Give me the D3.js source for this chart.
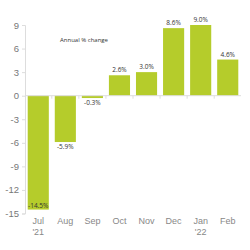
<!DOCTYPE html>
<html>
<head>
<meta charset="utf-8">
<script src="https://cdn.jsdelivr.net/npm/d3@7"></script>
<style>
  body { margin: 0; background: #fff; }
  text { font-family: "Liberation Sans", "DejaVu Sans", sans-serif; }
</style>
</head>
<body>
<div id="chart"></div>
<script>
var months = ["Jul", "Aug", "Sep", "Oct", "Nov", "Dec", "Jan", "Feb"];
var years = ["'21", "", "", "", "", "", "'22", ""];
var values = [-14.5, -5.9, -0.3, 2.6, 3.0, 8.6, 9.0, 4.6];
var yTicks = [9, 6, 3, 0, -3, -6, -9, -12, -15];

var width = 250, height = 250;
var margin = {top: 25, right: 9, bottom: 36, left: 25};

var svg = d3.select("#chart").append("svg")
    .attr("width", width)
    .attr("height", height);

var x = d3.scaleBand()
    .domain(months)
    .range([margin.left, width - margin.right])
    .paddingInner(0.22)
    .paddingOuter(0.1);

var y = d3.scaleLinear()
    .domain([-15, 9])
    .range([height - margin.bottom - 0.5, margin.top]);

// y axis
var yAxis = d3.axisLeft(y).tickValues(yTicks).tickSize(3).tickPadding(3)
    .tickFormat(function(d){ return String(d); });
var gy = svg.append("g")
    .attr("transform", "translate(" + margin.left + ",0)")
    .call(yAxis);
gy.select(".domain").attr("stroke", "#ddd");
gy.selectAll(".tick line").attr("stroke", "#ddd");
gy.selectAll(".tick text")
    .attr("fill", "#777")
    .style("font-family", "'Liberation Sans', sans-serif")
    .style("font-size", "9.5px");

// bars
svg.selectAll("rect.bar")
    .data(values)
    .enter().append("rect")
    .attr("class", "bar")
    .attr("x", function(d, i){ return x(months[i]); })
    .attr("y", function(d){ return y(Math.max(0, d)); })
    .attr("width", x.bandwidth())
    .attr("height", function(d){ return Math.abs(y(d) - y(0)); })
    .attr("fill", "#b5cc2b");

// zero line with ticks at band boundaries
svg.append("line")
    .attr("x1", margin.left).attr("x2", width - margin.right)
    .attr("y1", y(0)).attr("y2", y(0))
    .attr("stroke", "#ddd");

svg.selectAll("line.sep")
    .data(months.slice(1))
    .enter().append("line")
    .attr("class", "sep")
    .attr("x1", function(d){ return x(d) - x.step() * x.paddingInner() / 2; })
    .attr("x2", function(d){ return x(d) - x.step() * x.paddingInner() / 2; })
    .attr("y1", y(0)).attr("y2", y(0) + 3)
    .attr("stroke", "#ddd");

// value labels
svg.selectAll("text.val")
    .data(values)
    .enter().append("text")
    .attr("class", "val")
    .attr("x", function(d, i){ return x(months[i]) + x.bandwidth() / 2; })
    .attr("y", function(d){
      if (d >= 0) return y(d) - 3;
      if (d < -12) return y(d) - 2;
      return y(d) + 7;
    })
    .attr("text-anchor", "middle")
    .attr("fill", "#333")
    .style("font-family", "'Open Sans', sans-serif")
    .style("font-size", "6.5px")
    .text(function(d){ return d.toFixed(1) + "%"; });

// x labels
svg.selectAll("text.mon")
    .data(months)
    .enter().append("text")
    .attr("class", "mon")
    .attr("x", function(d){ return x(d) + x.bandwidth() / 2; })
    .attr("y", 224)
    .attr("text-anchor", "middle")
    .attr("fill", "#888")
    .style("font-size", "9px")
    .text(function(d){ return d; });

svg.selectAll("text.yr")
    .data(years)
    .enter().append("text")
    .attr("class", "yr")
    .attr("x", function(d, i){ return x(months[i]) + x.bandwidth() / 2; })
    .attr("y", 235)
    .attr("text-anchor", "middle")
    .attr("fill", "#888")
    .style("font-size", "9px")
    .text(function(d){ return d; });

// title
svg.append("text")
    .attr("x", 84)
    .attr("y", 42)
    .attr("text-anchor", "middle")
    .attr("fill", "#333")
    .style("font-family", "'Open Sans', sans-serif")
    .style("font-size", "6px")
    .text("Annual % change");
</script>
</body>
</html>
